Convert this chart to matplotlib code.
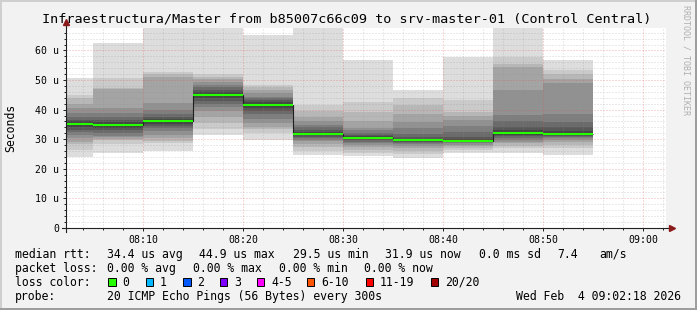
import numpy as np
import matplotlib
matplotlib.use('Agg')
import matplotlib.pyplot as plt
from matplotlib.patches import Rectangle

W, H = 697, 310
MONO = 'DejaVu Sans Mono'

title = 'Infraestructura/Master from b85007c66c09 to srv-master-01 (Control Central)'

# minutes after 08:00, end of each 300 s step
seg_end = [5, 10, 15, 20, 25, 30, 35, 40, 45, 50, 55]
median_rtt = [35.1, 34.8, 36.2, 44.9, 41.6, 31.8, 30.5, 29.8, 29.5, 32.2, 31.9]

# 20 sorted pings per step (us)
pings_0805 = [24.0, 26.5, 28.3, 29.2, 30.3, 31.5, 32.3, 33.2, 34.0, 34.8,
              35.4, 36.0, 36.6, 37.5, 39.0, 40.5, 42.0, 43.8, 45.0, 50.6]
pings_0810 = [25.4, 28.5, 29.7, 30.2, 30.6, 31.2, 32.0, 33.0, 33.8, 34.4,
              35.2, 35.8, 36.6, 37.6, 38.8, 40.4, 47.0, 47.3, 50.6, 62.5]
pings_0815 = [26.0, 28.6, 29.3, 30.5, 31.6, 32.8, 33.8, 34.5, 35.0, 35.9,
              36.5, 37.0, 37.6, 38.4, 40.0, 42.3, 51.0, 52.0, 52.8, 68.5]
pings_0820 = [31.4, 33.5, 35.5, 37.5, 39.5, 41.0, 42.0, 43.0, 44.0, 44.6,
              45.2, 46.0, 46.8, 47.5, 48.5, 49.4, 50.5, 51.0, 51.9, 69.0]
pings_0825 = [29.9, 32.0, 33.5, 34.2, 35.5, 37.0, 38.5, 39.5, 40.5, 41.3,
              41.9, 42.5, 43.2, 44.0, 44.4, 45.5, 46.5, 47.5, 48.3, 65.2]
pings_0830 = [24.7, 26.0, 27.5, 28.5, 29.3, 29.7, 30.3, 30.8, 31.3, 31.6,
              32.0, 32.5, 33.2, 34.0, 34.8, 36.0, 37.6, 39.5, 41.6, 67.8]
pings_0835 = [24.2, 25.5, 26.5, 27.3, 28.0, 28.6, 29.2, 29.7, 30.1, 30.4,
              30.7, 31.0, 31.5, 32.2, 33.0, 33.7, 36.0, 39.3, 42.7, 56.8]
pings_0840 = [23.6, 25.0, 26.0, 27.0, 27.8, 28.3, 28.8, 29.2, 29.5, 29.7,
              29.9, 30.2, 30.8, 31.8, 33.7, 35.9, 38.5, 41.6, 43.8, 46.8]
pings_0845 = [25.2, 26.3, 27.2, 27.8, 28.2, 28.6, 28.9, 29.1, 29.3, 29.4,
              29.6, 30.0, 30.8, 32.5, 34.5, 36.5, 38.0, 39.3, 43.2, 57.9]
pings_0850 = [25.2, 26.9, 27.8, 28.6, 29.2, 29.7, 30.3, 31.0, 31.6, 32.0,
              32.4, 33.0, 34.2, 36.0, 38.2, 46.6, 54.5, 55.6, 57.9, 67.6]
pings_0855 = [24.7, 26.9, 28.0, 29.0, 29.6, 30.3, 30.8, 31.2, 31.5, 31.8,
              32.0, 32.8, 34.0, 35.9, 38.7, 48.9, 50.5, 52.0, 53.4, 56.8]
pings = [pings_0805, pings_0810, pings_0815, pings_0820, pings_0825, pings_0830,
         pings_0835, pings_0840, pings_0845, pings_0850, pings_0855]

x_ticks = [10, 20, 30, 40, 50, 60]
x_labels = ['08:10', '08:20', '08:30', '08:40', '08:50', '09:00']
y_ticks = [0, 10, 20, 30, 40, 50, 60]
y_labels = ['0', '10 u', '20 u', '30 u', '40 u', '50 u', '60 u']

loss_labels = ['0', '1', '2', '3', '4-5', '6-10', '11-19', '20/20']
loss_colors = ['#26ff00', '#00b8ff', '#0059ff', '#7e00ff', '#ff00ff',
               '#ff5500', '#ff0000', '#a10000']

rtt_items = ['34.4 us avg', '44.9 us max', '29.5 us min', '31.9 us now',
             '0.0 ms sd', '7.4', 'am/s']
loss_items = ['0.00 % avg', '0.00 % max', '0.00 % min', '0.00 % now']
probe_text = '20 ICMP Echo Pings (56 Bytes) every 300s'
stamp = 'Wed Feb  4 09:02:18 2026'

x_min, x_max = 2.3, 62.3
y_max = 67.6

fig = plt.figure(figsize=(W / 100, H / 100), dpi=100, facecolor='#f2f2f2')


def px(x, y):
    return x / W, 1 - y / H


def ftext(x, y, s, **kw):
    kw.setdefault('fontsize', 8.3)
    kw.setdefault('va', 'center')
    fig.text(*px(x, y), s, family=MONO, **kw)


# frame shading
for (x0, y0, w, h, c) in [(0, 0, W, 2, '#cfcfcf'), (0, 0, 2, H, '#cfcfcf'),
                          (W - 2, 0, 2, H, '#9e9e9e'), (0, H - 2, W, 2, '#9e9e9e')]:
    fig.add_artist(Rectangle((x0 / W, 1 - (y0 + h) / H), w / W, h / H,
                             transform=fig.transFigure, color=c, lw=0))

ax = fig.add_axes([66.3 / W, 1 - 228 / H, 600 / W, 200 / H])
ax.set_facecolor('white')
ax.set_xlim(x_min, x_max)
ax.set_ylim(0, y_max)
for s in ax.spines.values():
    s.set_visible(False)

# smoke: nested pairs, inner = darker
half = 10
for end, p in zip(seg_end, pings):
    p = sorted(p)
    for i in range(half):
        g = int(190 / half * (half - 1 - i)) + 50
        ax.bar(end - 5, p[19 - i] - p[i], bottom=p[i], width=5, align='edge',
               color='#%02x%02x%02x' % (g, g, g), lw=0, zorder=1)

# grid
for m in np.arange(4, 63, 2):
    if m % 10:
        ax.axvline(m, color=(0.55, 0.55, 0.55, 0.35), lw=0.72, ls=(0, (1, 2)), zorder=2)
for v in np.arange(2, 68, 2):
    if v % 10:
        ax.axhline(v, color=(0.55, 0.55, 0.55, 0.35), lw=0.72, ls=(0, (1, 2)), zorder=2)
for m in x_ticks:
    ax.axvline(m, color=(0.87, 0.31, 0.31, 0.45), lw=0.72, ls=(0, (1, 2)), zorder=2)
for v in y_ticks[1:]:
    ax.axhline(v, color=(0.87, 0.31, 0.31, 0.45), lw=0.72, ls=(0, (1, 2)), zorder=2)

# median
edges = [seg_end[0] - 5] + seg_end
ax.stairs(median_rtt, edges, baseline=None, color='#202020', lw=0.8, zorder=3)
ax.hlines(median_rtt, [e - 5 for e in seg_end], seg_end, color=loss_colors[0],
          lw=1.5, zorder=4)

# axes lines + arrows
ax.plot([x_min - 0.4, x_max + 0.35], [0, 0], color='#202020', lw=0.8,
        clip_on=False, zorder=5)
ax.plot([x_min, x_min], [-1.2, y_max + 1.7], color='#202020', lw=0.8,
        clip_on=False, zorder=5)
ax.plot([x_max + 0.55], [0], marker='>', ms=4.5, color='#8b1a1a', lw=0,
        clip_on=False, zorder=6)
ax.plot([x_min], [y_max + 2.0], marker='^', ms=4.5, color='#8b1a1a', lw=0,
        clip_on=False, zorder=6)

ax.set_xticks(x_ticks, x_labels)
ax.set_xticks([m for m in np.arange(4, 63, 2) if m % 10], minor=True)
ax.set_yticks(y_ticks, y_labels)
ax.set_yticks([v for v in np.arange(2, 68, 2) if v % 10], minor=True)
ax.tick_params(which='both', direction='out', color='#202020', width=0.7,
               labelsize=7.1, labelfontfamily=MONO)
ax.tick_params(which='major', length=2.2)
ax.tick_params(which='minor', length=1.4)
ax.tick_params(axis='x', pad=2.6)
ax.tick_params(axis='y', pad=3.0)

# texts
ftext(346.8, 19, title, fontsize=9.7, ha='center')
fig.text(*px(10.5, 127.5), 'Seconds', family=MONO, fontsize=8.3, rotation=90,
         ha='center', va='center')
fig.text(*px(686, 60), 'RRDTOOL / TOBI OETIKER', family=MONO, fontsize=6,
         rotation=270, ha='center', va='center', color='#b0b0b0')

row_y = [254.3, 268.3, 282.0, 296.5]
ftext(15.3, row_y[0], 'median rtt:')
for x, s in zip([106.6, 199.3, 292.6, 385.3, 478.6, 557.6, 599.3], rtt_items):
    ftext(x, row_y[0], s)
ftext(15.3, row_y[1], 'packet loss:')
for x, s in zip([106.6, 192.6, 278.6, 364.3], loss_items):
    ftext(x, row_y[1], s)
ftext(15.3, row_y[2], 'loss color:')
for x, s, c in zip([108.3, 145.7, 183.0, 220.0, 256.7, 306.7, 365.7, 430.7],
                   loss_labels, loss_colors):
    fig.add_artist(Rectangle((x / W, 1 - (row_y[2] + 3.8) / H), 7.5 / W, 7.5 / H,
                             transform=fig.transFigure, facecolor=c,
                             edgecolor='black', lw=0.7))
    ftext(x + 14.3, row_y[2], s)
ftext(15.3, row_y[3], 'probe:')
ftext(106.6, row_y[3], probe_text)
ftext(680.5, row_y[3], stamp, ha='right')

fig.savefig('out.png', dpi=100, facecolor=fig.get_facecolor())
